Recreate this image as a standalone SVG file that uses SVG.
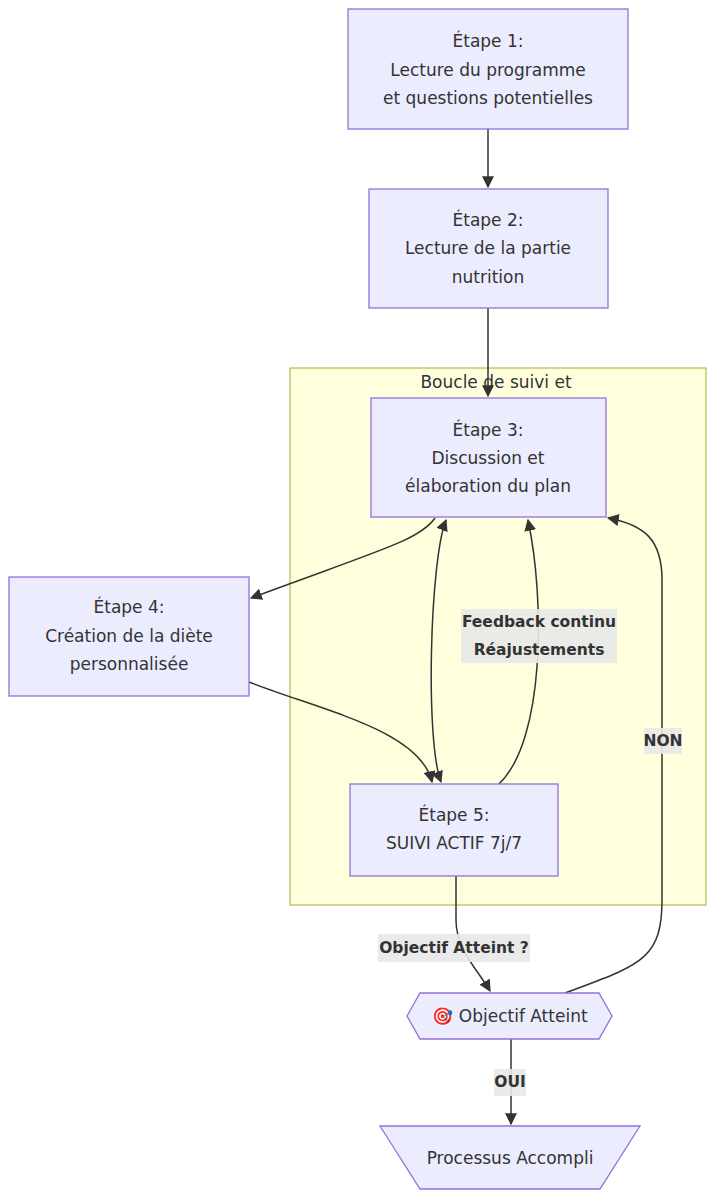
<svg xmlns="http://www.w3.org/2000/svg" width="716" height="1200" viewBox="0 0 716 1200">
<style>
text{font-family:"DejaVu Sans","Open Sans",sans-serif;font-size:17px;fill:#333;text-anchor:middle;dominant-baseline:central}
.n{fill:#ECECFF;stroke:#9370DB;stroke-width:1.3}
.e{fill:none;stroke:#333;stroke-width:1.5}
.lb{fill:#e8e8e8;opacity:0.9}
.l{font-weight:bold;font-size:15.5px}
</style>
<defs>
<marker id="a" viewBox="0 0 10 10" refX="9" refY="5" markerWidth="8" markerHeight="8" orient="auto-start-reverse"><path d="M0,0L10,5L0,10z" fill="#333"/></marker>
</defs>
<rect x="290" y="368" width="416" height="537" fill="#ffffde" stroke="#aaaa33"/>
<text x="496" y="382">Boucle de suivi et</text>
<g id="connectors">
<path class="e" d="M488,129L488,187" marker-end="url(#a)"/>
<path class="e" d="M488,308L488,396" marker-end="url(#a)"/>
<path class="e" d="M435,518C420,540 380,550 251,598" marker-end="url(#a)"/>
<path class="e" d="M249,682C320,710 420,730 432,782" marker-end="url(#a)"/>
<path class="e" d="M446,520C430,560 425,740 441,782" marker-start="url(#a)" marker-end="url(#a)"/>
<path class="e" d="M499,784C545,740 545,600 528,520" marker-end="url(#a)"/>
<path class="e" d="M565,993C640,965 662,960 662,900L662,580C662,540 645,525 608,518" marker-end="url(#a)"/>
<path class="e" d="M456,876L456,920C456,950 478,970 490,991" marker-end="url(#a)"/>
<path class="e" d="M511,1039L511,1124" marker-end="url(#a)"/>
<rect class="lb" x="461" y="609" width="156" height="54"/>
<text class="l" x="539" y="622">Feedback continu</text>
<text class="l" x="539" y="650">Réajustements</text>
<rect class="lb" x="644" y="728" width="38" height="26"/>
<text class="l" x="663" y="741">NON</text>
<rect class="lb" x="378" y="934" width="152" height="28"/>
<text class="l" x="454" y="948">Objectif Atteint ?</text>
<rect class="lb" x="494" y="1069" width="32" height="27"/>
<text class="l" x="510" y="1082">OUI</text>
</g>
<g id="n1"><rect class="n" x="348" y="9" width="280" height="120"/>
<text x="488" y="41">Étape 1:</text><text x="488" y="70">Lecture du programme</text><text x="488" y="98">et questions potentielles</text></g>
<g id="n2"><rect class="n" x="369" y="189" width="239" height="119"/>
<text x="488" y="220">Étape 2:</text><text x="488" y="248">Lecture de la partie</text><text x="488" y="277">nutrition</text></g>
<g id="n3"><rect class="n" x="371" y="398" width="235" height="119"/>
<text x="488" y="430">Étape 3:</text><text x="488" y="458">Discussion et</text><text x="488" y="486">élaboration du plan</text></g>
<g id="n4"><rect class="n" x="9" y="577" width="240" height="119"/>
<text x="129" y="607">Étape 4:</text><text x="129" y="636">Création de la diète</text><text x="129" y="664">personnalisée</text></g>
<g id="n5"><rect class="n" x="350" y="784" width="208" height="92"/>
<text x="454" y="815">Étape 5:</text><text x="454" y="843">SUIVI ACTIF 7j/7</text></g>
<g id="n6"><polygon class="n" points="407,1016 420,993 599,993 612,1016 599,1039 420,1039"/>
<text x="510" y="1016">🎯 Objectif Atteint</text></g>
<g id="n7"><polygon class="n" points="380,1126 640,1126 600,1189 420,1189"/>
<text x="510" y="1158">Processus Accompli</text></g>
</svg>
